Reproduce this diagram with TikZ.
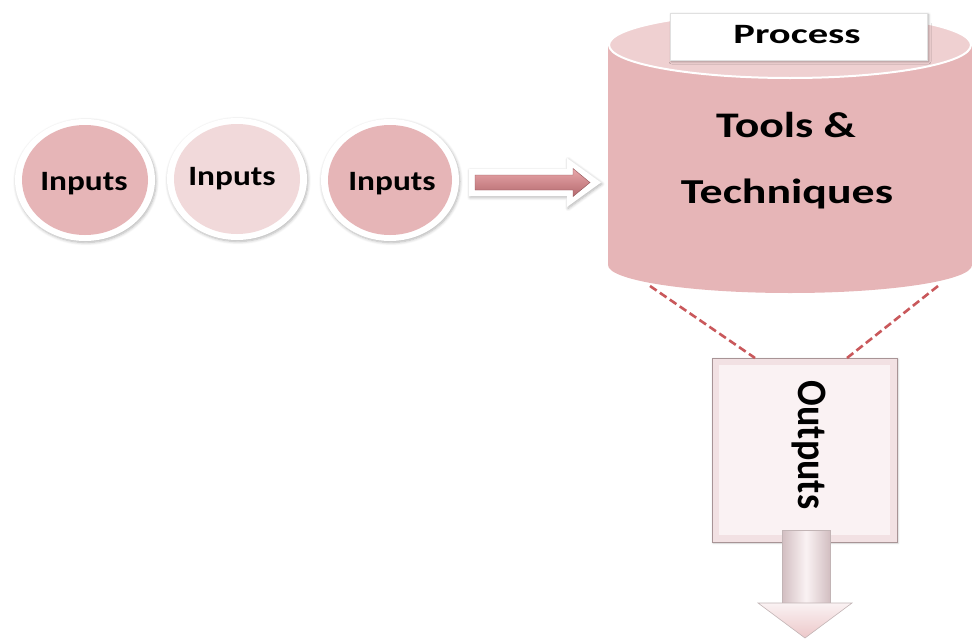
\documentclass[tikz,border=0pt]{standalone}
\usepackage{fontspec}
\setmainfont{Carlito}
\usetikzlibrary{calc,shapes.geometric,shadows.blur}
\definecolor{rose}{HTML}{E6B5B7}
\definecolor{roselight}{HTML}{F1D9DA}
\definecolor{roserim}{HTML}{EFD0D1}
\definecolor{dashred}{HTML}{C9585B}
\definecolor{arrowtop}{HTML}{E9A7AA}
\definecolor{arrowbot}{HTML}{B46A6F}
\definecolor{paper}{HTML}{FAF2F3}
\definecolor{bevel}{HTML}{F2E1E3}
\definecolor{edge}{HTML}{A89496}
\definecolor{downedge}{HTML}{D2BEC1}
\begin{document}
\begin{tikzpicture}[x=1pt,y=-1pt,
  softshadow/.style={blur shadow={shadow xshift=1pt, shadow yshift=-1.5pt, shadow opacity=30, shadow blur steps=6, shadow blur radius=3pt}},
  ring/.style={ellipse, fill=white, inner sep=0pt, softshadow},
  disc/.style={ellipse, inner sep=0pt, minimum width=126, minimum height=110},
  word/.style={inner sep=0pt, anchor=base, font=\bfseries},
  dashline/.style={dashred, line width=2.6pt, dash pattern=on 8pt off 4pt}]
\useasboundingbox (0,0) rectangle (972,640);

% --- three input discs ---
\node[ring, minimum width=140, minimum height=122] (c1) at (85,180) {};
\node[disc, fill=rose] (d1) at (c1) {};
\node[ring, minimum width=140, minimum height=122] (c2) at (237,179) {};
\node[disc, fill=roselight] (d2) at (c2) {};
\node[ring, minimum width=138, minimum height=122] (c3) at (390,180) {};
\node[disc, fill=rose, minimum width=124] (d3) at (c3) {};
\node[word, font=\bfseries\fontsize{28}{30}\selectfont] (t1) at (84,190) {\scalebox{1.19}[1]{Inputs}};
\node[word, font=\bfseries\fontsize{28}{30}\selectfont] (t2) at (232,185) {\scalebox{1.19}[1]{Inputs}};
\node[word, font=\bfseries\fontsize{28}{30}\selectfont] (t3) at (392,190) {\scalebox{1.19}[1]{Inputs}};

% --- block arrow into the process: white rim with a soft shadow, pink body ---
\coordinate (a0) at (475,182.5);
\coordinate (a1) at (573,182.5);
\coordinate (atip) at (590,182.5);
\path[fill=white, softshadow]
  ($(a0)+(-6,-13.5)$) -- ($(a1)+(-6,-13.5)$) -- ($(a1)+(-6,-24.5)$) -- ($(atip)+(11,0)$)
  -- ($(a1)+(-6,24.5)$) -- ($(a1)+(-6,13.5)$) -- ($(a0)+(-6,13.5)$) -- cycle;
\path[top color=arrowtop, bottom color=arrowbot, draw=arrowbot!80!black, line width=0.4pt]
  ($(a0)+(0,-7.5)$) -- ($(a1)+(0,-7.5)$) -- ($(a1)+(0,-14)$) -- (atip)
  -- ($(a1)+(0,14)$) -- ($(a1)+(0,7.5)$) -- ($(a0)+(0,7.5)$) -- cycle;

% --- process cylinder ---
\coordinate (cyltop) at (790,45);
\coordinate (cylbot) at (790,265);
\fill[rose] (608,45) -- (608,265) arc[start angle=180, end angle=0, x radius=182, y radius=28] -- (972,45) -- cycle;
\draw[white, line width=2pt, fill=roserim] (cyltop) ellipse [x radius=181, y radius=33];
\node[rectangle, fill=white, draw=black!12, minimum width=257, minimum height=47, inner sep=0pt,
  blur shadow={shadow xshift=1.5pt, shadow yshift=-1.5pt, shadow opacity=35, shadow blur steps=5, shadow blur radius=2.5pt}]
  (proc) at (798.5,36.5) {};
\node[word, font=\bfseries\fontsize{28}{30}\selectfont] (ptxt) at (797,43) {\scalebox{1.45}[1]{Process}};
\node[word, font=\bfseries\fontsize{36}{40}\selectfont] (tools) at (786,137) {\scalebox{1.27}[1]{Tools \&}};
\node[word, font=\bfseries\fontsize{35}{40}\selectfont] (tech) at (787,203) {\scalebox{1.31}[1]{Techniques}};

% --- outputs box ---
\node[rectangle, fill=bevel, draw=edge, line width=0.8pt, minimum width=185, minimum height=184, inner sep=0pt,
  blur shadow={shadow xshift=1pt, shadow yshift=-1pt, shadow opacity=20, shadow blur steps=4, shadow blur radius=2pt}]
  (out) at (804.5,450) {};
\node[rectangle, fill=paper, minimum width=171, minimum height=170, inner sep=0pt] (outin) at (out) {};
\node[inner sep=0pt, rotate=-90, font=\bfseries\fontsize{38}{40}\selectfont] (otxt) at (809,445) {\scalebox{1}[1.1]{Outputs}};

% --- dashed funnel from cylinder to outputs ---
\coordinate (fl) at (650,286);
\coordinate (fr) at (938,286);
\coordinate (ol) at (755,358);
\coordinate (or) at (847,358);
\draw[dashline] (fl) -- (ol);
\draw[dashline] (fr) -- (or);

% --- down arrow out of the box ---
\coordinate (s0) at (806,530);
\coordinate (s1) at (806,603);
\coordinate (dtip) at (805,638);
\path[left color=downedge, right color=downedge, middle color=paper, draw=edge!70, line width=0.6pt]
  ($(s0)+(-24,0)$) -- ($(s1)+(-24,0)$) -- ($(s1)+(24,0)$) -- ($(s0)+(24,0)$) -- cycle;
\path[top color=paper, bottom color=rose!75, draw=edge!70, line width=0.6pt]
  ($(s1)+(-48,0)$) -- (dtip) -- ($(s1)+(46,0)$) -- cycle;
\end{tikzpicture}
\end{document}
